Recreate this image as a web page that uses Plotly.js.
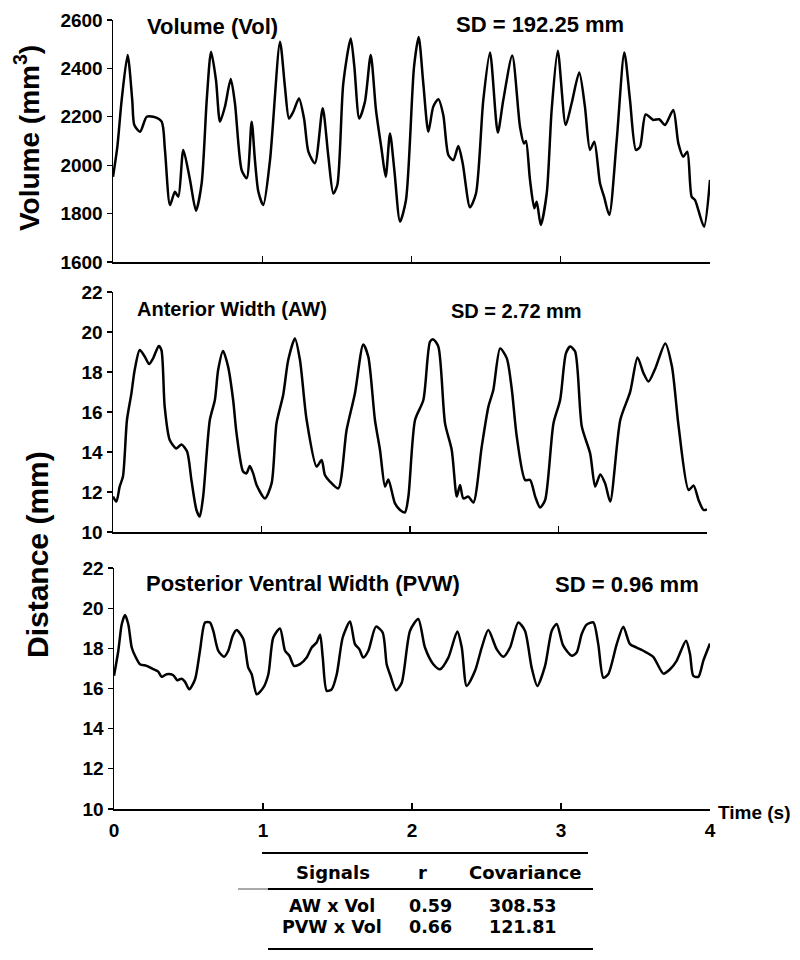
<!DOCTYPE html>
<html>
<head>
<meta charset="utf-8">
<script src="https://cdn.plot.ly/plotly-3.0.1.min.js"></script>
<style>
html,body{margin:0;padding:0;background:#fff;}
#chart{width:800px;height:960px;}
</style>
</head>
<body>
<div id="chart"></div>
<script>
// ---------- DATA ----------
var volTime = [0.000,0.029,0.058,0.098,0.129,0.143,0.181,0.226,0.270,0.326,0.348,0.382,0.415,0.438,0.471,0.516,0.556,0.594,0.628,0.657,0.690,0.717,0.750,0.789,0.817,0.862,0.896,0.929,0.951,0.974,1.007,1.052,1.119,1.152,1.179,1.208,1.246,1.280,1.309,1.353,1.405,1.443,1.476,1.503,1.543,1.593,1.617,1.650,1.688,1.727,1.762,1.800,1.827,1.856,1.885,1.923,1.963,2.017,2.048,2.079,2.113,2.146,2.180,2.213,2.247,2.280,2.314,2.343,2.392,2.432,2.481,2.526,2.578,2.615,2.675,2.727,2.754,2.767,2.794,2.823,2.839,2.866,2.906,2.939,2.980,3.033,3.073,3.124,3.162,3.196,3.225,3.263,3.290,3.325,3.375,3.426,3.464,3.504,3.531,3.569,3.620,3.660,3.698,3.754,3.788,3.821,3.848,3.877,3.900,3.915,3.960,4.000];
var volValue = [1952,2076,2269,2455,2269,2166,2138,2200,2200,2180,2063,1835,1890,1870,2063,1939,1812,1925,2269,2469,2352,2180,2242,2356,2256,1980,1946,2180,2021,1890,1835,2021,2510,2324,2193,2221,2276,2193,2056,2008,2235,2035,1883,1918,2338,2524,2407,2193,2262,2455,2228,2063,1952,2131,1980,1767,1856,2407,2530,2338,2138,2242,2273,2207,2042,2021,2079,2008,1826,1883,2269,2466,2135,2269,2453,2159,2090,2100,1939,1822,1849,1753,1883,2228,2473,2166,2256,2383,2242,2063,2097,1925,1870,1794,2104,2466,2269,2063,2076,2210,2187,2190,2166,2228,2090,2035,2056,1870,1856,1829,1746,1939];

var awTime = [0.000,0.023,0.045,0.067,0.094,0.124,0.146,0.180,0.214,0.243,0.270,0.308,0.326,0.348,0.382,0.427,0.461,0.499,0.528,0.562,0.584,0.607,0.652,0.686,0.708,0.741,0.775,0.809,0.832,0.876,0.899,0.921,0.944,0.967,1.023,1.068,1.101,1.146,1.180,1.225,1.259,1.304,1.371,1.405,1.427,1.461,1.517,1.573,1.629,1.685,1.719,1.764,1.798,1.832,1.854,1.899,1.933,1.966,1.989,2.034,2.090,2.135,2.157,2.191,2.236,2.281,2.315,2.337,2.359,2.393,2.427,2.483,2.528,2.561,2.607,2.652,2.686,2.719,2.775,2.809,2.843,2.876,2.910,2.966,3.011,3.050,3.079,3.112,3.157,3.213,3.247,3.281,3.314,3.348,3.416,3.483,3.532,3.573,3.606,3.652,3.719,3.764,3.809,3.876,3.910,3.943,3.977,4.000];
var awValue = [11.77,11.52,12.27,12.77,15.60,16.93,18.10,19.10,18.77,18.40,18.68,19.30,19.10,16.27,14.60,14.18,14.38,14.02,12.60,11.10,10.77,11.77,15.60,16.60,18.10,19.05,18.27,16.60,14.93,13.02,12.93,13.30,12.93,12.35,11.68,12.43,15.43,16.85,18.60,19.68,18.60,15.60,13.27,13.60,12.85,12.52,12.18,15.10,16.93,19.38,18.77,15.60,14.10,12.27,12.63,11.43,11.10,10.98,11.77,15.60,16.60,19.52,19.63,19.27,15.43,14.10,11.77,12.35,11.68,11.77,11.47,14.27,16.27,17.10,19.18,18.68,17.10,14.77,12.60,12.60,11.77,11.22,11.60,15.43,16.60,18.93,19.27,19.02,15.27,13.93,12.27,12.88,12.43,11.52,15.60,17.02,18.73,17.93,17.52,18.18,19.43,18.27,15.27,12.10,12.32,11.60,11.10,11.13];

var pvwTime = [0.000,0.029,0.052,0.074,0.096,0.119,0.141,0.174,0.219,0.264,0.297,0.320,0.354,0.398,0.425,0.454,0.477,0.505,0.544,0.577,0.611,0.644,0.666,0.700,0.738,0.767,0.797,0.823,0.868,0.901,0.924,0.958,1.002,1.036,1.069,1.114,1.148,1.177,1.208,1.248,1.293,1.327,1.360,1.383,1.401,1.428,1.461,1.495,1.535,1.584,1.617,1.646,1.673,1.707,1.758,1.803,1.830,1.852,1.893,1.931,1.987,2.042,2.087,2.143,2.188,2.244,2.304,2.334,2.367,2.423,2.468,2.512,2.568,2.613,2.658,2.713,2.758,2.803,2.841,2.893,2.938,2.971,3.015,3.072,3.105,3.139,3.172,3.217,3.250,3.284,3.317,3.374,3.418,3.463,3.508,3.552,3.619,3.687,3.732,3.776,3.839,3.866,3.888,3.922,3.955,4.000];
var pvwValue = [16.63,17.88,19.20,19.66,19.20,18.04,17.63,17.21,17.13,16.96,16.84,16.58,16.71,16.66,16.41,16.49,16.33,15.96,16.46,17.88,19.29,19.29,18.88,17.88,17.58,17.88,18.63,18.91,18.46,17.04,16.71,15.71,16.04,16.71,18.54,18.99,17.88,17.63,17.13,17.21,17.54,18.04,18.29,18.68,17.54,15.88,15.96,16.71,18.54,19.34,18.21,17.96,17.54,17.88,19.08,18.79,17.21,16.71,15.91,16.29,18.88,19.46,18.04,17.21,16.96,17.54,18.84,18.04,16.13,16.88,18.04,18.91,17.96,17.58,18.04,19.29,18.88,17.04,16.13,17.13,18.88,19.21,18.13,17.63,17.79,18.71,19.18,19.29,18.21,16.54,16.71,18.21,19.08,18.21,18.04,17.88,17.58,16.74,16.96,17.38,18.38,17.71,16.63,16.58,17.38,18.24];

var timeTicks = [0,1,2,3,4];
var volTicks = [1600,1800,2000,2200,2400,2600];
var distTicks = [10,12,14,16,18,20,22];

var panelTitles = ["Volume (Vol)", "Anterior Width (AW)", "Posterior Ventral Width (PVW)"];
var sdLabels = ["SD = 192.25 mm", "SD = 2.72 mm", "SD = 0.96 mm"];

var tableHeader = ["Signals", "r", "Covariance"];
var tableSignals = ["AW x Vol", "PVW x Vol"];
var tableR = ["0.59", "0.66"];
var tableCov = ["308.53", "121.81"];

// ---------- LAYOUT HELPERS ----------
var W = 800, H = 960;
function px(x){ return x / W; }
function py(y){ return 1 - y / H; }
var FONT = "Liberation Sans, Arial, Helvetica, sans-serif";
var TFONT = "DejaVu Sans, Liberation Sans, sans-serif";

function txt(text, x, y, size, xanchor, extra){
  var a = {
    text: text, xref: "paper", yref: "paper", x: px(x), y: py(y),
    xanchor: xanchor || "center", yanchor: "middle", showarrow: false,
    font: {family: FONT, size: size, color: "#000", weight: "bold"}
  };
  if (extra) for (var k in extra) a[k] = extra[k];
  return a;
}
function tcell(text, x, y, size){
  var a = txt(text, x, y, size, "center");
  a.font.family = TFONT;
  return a;
}
function hline(x0, x1, y, w, c){
  return {type: "line", xref: "paper", yref: "paper",
    x0: px(x0), x1: px(x1), y0: py(y), y1: py(y),
    line: {color: c || "#000", width: w}};
}

var line = {color: "#000", width: 2.5, shape: "spline", smoothing: 0.7};

var traces = [
  {x: volTime, y: volValue, xaxis: "x", yaxis: "y", mode: "lines", line: line, hoverinfo: "skip"},
  {x: awTime, y: awValue, xaxis: "x2", yaxis: "y2", mode: "lines", line: line, hoverinfo: "skip"},
  {x: pvwTime, y: pvwValue, xaxis: "x3", yaxis: "y3", mode: "lines", line: line, hoverinfo: "skip"}
];

var tickFont = {family: FONT, size: 19, color: "#000", weight: "bold"};
function xax(d0, d1, anchor, labels){
  var a = {domain: [px(d0), px(d1)], range: [0, 4], anchor: anchor,
    tickvals: timeTicks, showticklabels: labels,
    ticks: "inside", ticklen: 6, tickwidth: 1.2, tickcolor: "#000",
    showline: true, linecolor: "#000", linewidth: 1.5,
    showgrid: false, zeroline: false, tickfont: tickFont, fixedrange: true};
  if (labels) { a.ticktext = timeTicks.map(String); a.ticklabelstandoff = 4; }
  return a;
}
function yax(top, bottom, range, ticks, anchor){
  return {domain: [py(bottom), py(top)], range: range, anchor: anchor,
    tickvals: ticks, ticktext: ticks.map(String),
    ticks: "outside", ticklen: 5, tickwidth: 1.2, tickcolor: "#000",
    showline: true, linecolor: "#000", linewidth: 1.5,
    showgrid: false, zeroline: false, tickfont: tickFont, fixedrange: true};
}

var annotations = [
  txt("Volume (mm<sup>3</sup>)", 27, 138, 28, "center", {textangle: -90}),
  txt("Distance (mm)", 37, 555, 30, "center", {textangle: -90}),
  txt(panelTitles[0], 145, 27, 22, "left"),
  txt(sdLabels[0], 454, 25, 22, "left"),
  txt(panelTitles[1], 135, 309, 20, "left"),
  txt(sdLabels[1], 449, 311, 20, "left"),
  txt(panelTitles[2], 144, 583, 22, "left"),
  txt(sdLabels[2], 553, 584, 22, "left"),
  txt("Time (s)", 716, 812, 19, "left"),
  tcell(tableHeader[0], 333, 872, 18),
  tcell(tableHeader[1], 422, 872, 18),
  tcell(tableHeader[2], 525, 872, 18)
];
for (var i = 0; i < tableSignals.length; i++) {
  var yy = 906 + i * 20.5;
  annotations.push(tcell(tableSignals[i], 332, yy, 17.5));
  annotations.push(tcell(tableR[i], 431, yy, 17.5));
  annotations.push(tcell(tableCov[i], 523, yy, 17.5));
}

var layout = {
  width: W, height: H,
  margin: {l: 0, r: 0, t: 0, b: 0},
  paper_bgcolor: "#fff", plot_bgcolor: "rgba(0,0,0,0)",
  showlegend: false,
  font: {family: FONT, color: "#000"},
  xaxis: xax(113, 710, "y", false),
  yaxis: yax(20, 262, [1600, 2600], volTicks, "x"),
  xaxis2: xax(113, 707, "y2", false),
  yaxis2: yax(292, 532, [10, 22], distTicks, "x2"),
  xaxis3: xax(114, 710, "y3", true),
  yaxis3: yax(568, 809, [10, 22], distTicks, "x3"),
  annotations: annotations,
  shapes: [
    hline(262, 588, 853, 2),
    hline(238, 268, 889, 1, "#555"),
    hline(268, 593, 889, 2),
    hline(268, 593, 949, 2)
  ]
};

Plotly.newPlot("chart", traces, layout, {staticPlot: true, displayModeBar: false});
</script>
</body>
</html>
